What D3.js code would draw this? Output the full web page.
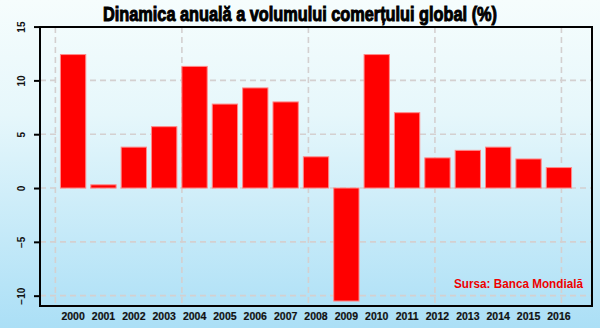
<!DOCTYPE html>
<html>
<head>
<meta charset="utf-8">
<script src="https://cdn.jsdelivr.net/npm/d3@7"></script>
<style>
  html, body { margin: 0; padding: 0; background: #fff; }
  svg { display: block; }
</style>
</head>
<body>
<svg id="chart" width="600" height="328"></svg>
<script>
// Annual growth of world trade volume, %
const years = ["2000","2001","2002","2003","2004","2005","2006","2007","2008",
               "2009","2010","2011","2012","2013","2014","2015","2016"];
const growth = [12.4, 0.3, 3.8, 5.7, 11.3, 7.8, 9.3, 8.0, 2.9,
                -10.5, 12.4, 7.0, 2.8, 3.5, 3.8, 2.7, 1.9];
const yTicks = [-10, -5, 0, 5, 10, 15];
const yGrid = [-10, -5, 0, 5, 10];
const xGrid = [0, 5, 10, 15, 20];
const title = "Dinamica anuală a volumului comerțului global (%)";
const source = "Sursa: Banca Mondială";

const W = 600, H = 328;
const box = { left: 40, right: 592, top: 27, bottom: 306 };

const svg = d3.select("#chart");

// background gradient
const defs = svg.append("defs");
const grad = defs.append("linearGradient")
  .attr("id", "bg").attr("x1", 0).attr("y1", 0).attr("x2", 0).attr("y2", 1);
grad.append("stop").attr("offset", "0%").attr("stop-color", "#f6fdfd");
grad.append("stop").attr("offset", "35%").attr("stop-color", "#e6f7fb");
grad.append("stop").attr("offset", "100%").attr("stop-color", "#abdff6");
svg.append("rect").attr("width", W).attr("height", H).attr("fill", "url(#bg)");

// scales: bar-plot units horizontally (bars of width 1, gap 0.2)
const xLin = d3.scaleLinear().domain([-0.608, 21.208]).range([box.left, box.right]);
const x = d3.scaleBand().domain(years)
  .range([xLin(0.1), xLin(20.5)])
  .paddingInner(1 / 6).paddingOuter(1 / 12);
const y = d3.scaleLinear().domain([-10.96, 14.96]).range([box.bottom, box.top]);

// grid
const grid = svg.append("g")
  .attr("stroke", "#d4d0d0").attr("stroke-width", 1.6)
  .attr("stroke-dasharray", "6,4").attr("fill", "none");
grid.selectAll("line.h").data(yGrid).join("line").attr("class", "h")
  .attr("x1", box.left).attr("x2", box.right)
  .attr("y1", d => y(d)).attr("y2", d => y(d));
grid.selectAll("line.v").data(xGrid).join("line").attr("class", "v")
  .attr("x1", d => xLin(d)).attr("x2", d => xLin(d))
  .attr("y1", box.top).attr("y2", box.bottom);

// bars
svg.append("g").selectAll("rect").data(years).join("rect")
  .attr("x", d => x(d))
  .attr("width", x.bandwidth())
  .attr("y", (d, i) => y(Math.max(0, growth[i])))
  .attr("height", (d, i) => Math.abs(y(growth[i]) - y(0)))
  .attr("fill", "#ff0000")
  .attr("stroke", "#ff8a8a").attr("stroke-width", 1);

// plot frame
svg.append("rect")
  .attr("x", box.left).attr("y", box.top)
  .attr("width", box.right - box.left).attr("height", box.bottom - box.top)
  .attr("fill", "none").attr("stroke", "#000").attr("stroke-width", 2);

// y axis (rotated labels)
const yAxis = d3.axisLeft(y).tickValues(yTicks).tickSize(6).tickPadding(8)
  .tickFormat(d3.format("d"));
const ya = svg.append("g").attr("transform", `translate(${box.left},0)`).call(yAxis);
ya.select(".domain").remove();
ya.selectAll(".tick line").attr("stroke", "#000").attr("stroke-width", 2);
ya.selectAll(".tick text")
  .attr("x", null).attr("dy", null)
  .attr("transform", "translate(-15,0) rotate(-90)")
  .attr("text-anchor", "middle")
  .attr("fill", "#111")
  .style("font-family", "'Liberation Sans', Arial, sans-serif")
  .style("font-weight", "bold").style("font-size", "10px");

// x labels
const xAxis = d3.axisBottom(x).tickSize(0).tickPadding(0);
const xa = svg.append("g").attr("transform", `translate(0,${box.bottom})`).call(xAxis);
xa.select(".domain").remove();
xa.selectAll(".tick text")
  .attr("y", 14).attr("dy", null)
  .attr("fill", "#111").attr("stroke", "#111").attr("stroke-width", 0.2)
  .style("font-family", "'Liberation Sans', Arial, sans-serif")
  .style("font-weight", "bold").style("font-size", "10.5px");

// title
svg.append("text")
  .attr("x", 300).attr("y", 21)
  .attr("text-anchor", "middle")
  .attr("textLength", 394).attr("lengthAdjust", "spacingAndGlyphs")
  .attr("fill", "#000").attr("stroke", "#000").attr("stroke-width", 1)
  .style("font-family", "'Liberation Sans Narrow', 'Liberation Sans', Arial, sans-serif")
  .style("font-weight", "bold").style("font-size", "20px")
  .text(title);

// source note
svg.append("text")
  .attr("x", 583).attr("y", 288)
  .attr("text-anchor", "end")
  .attr("textLength", 129).attr("lengthAdjust", "spacingAndGlyphs")
  .attr("fill", "#ee0000")
  .style("font-family", "'Liberation Sans', Arial, sans-serif")
  .style("font-weight", "bold").style("font-size", "12.5px")
  .text(source);
</script>
</body>
</html>
